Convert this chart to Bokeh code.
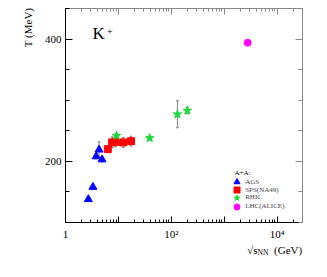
from bokeh.plotting import figure
from bokeh.models import (FixedTicker, CustomJSTickFormatter, LogAxis, LinearAxis, Label,
                          Legend, LegendItem, Whisker, TeeHead, ColumnDataSource)
from bokeh.embed import file_html
from bokeh.resources import INLINE

# ---- data ----
ags_x = [2.7, 3.3, 3.8, 4.3, 4.9]
ags_T = [138, 158, 208, 219, 203]
ags_err = [2, 3, 4, 13, 4]

sps_x = [6.3, 7.6, 8.8, 12.3, 17.3]
sps_T = [220, 231, 232, 231, 233]
sps_err = [4, 9, 8, 8, 8]

rhic_x = [9.2, 39, 130, 200]
rhic_T = [242, 238, 277, 283]
rhic_err = [3, 3, 22, 5]

lhc_x = [2760]
lhc_T = [394]
lhc_err = [3]

x_major = [1, 10, 100, 1000, 10000]
x_labels = {1: "1", 100: "10\u00b2", 10000: "10\u2074"}
y_major = [200, 400]
y_minor = [100, 150, 250, 300, 350, 450]

FONT = "Liberation Serif"
GREEN = "#1ed83c"
NB = "\u00a0"

p = figure(frame_width=237, frame_height=214, x_axis_type="log",
           x_range=(1, 3e4), y_range=(100, 450),
           output_backend="svg", toolbar_location=None,
           min_border_left=65, min_border_right=10, min_border_top=8, min_border_bottom=40)
p.grid.visible = False
p.outline_line_color = "#888888"
p.background_fill_color = "white"

x_minor = [m * d for d in [1, 10, 100, 1000, 10000] for m in range(2, 10) if m * d < 3e4]
fmt_js = "const m = %s; return (m[tick] !== undefined) ? m[tick] : '';" % (
    "{" + ",".join("%d:'%s'" % (k, v) for k, v in x_labels.items()) + "}")

def style(ax, labels=True, maj=6, mino=3, color="black"):
    ax.major_tick_in = maj
    ax.major_tick_out = 0
    ax.minor_tick_in = mino
    ax.minor_tick_out = 0
    ax.axis_line_color = color
    ax.major_tick_line_color = color
    ax.minor_tick_line_color = color
    ax.major_label_text_font = FONT
    ax.major_label_text_font_size = "11px" if labels else "0px"
    ax.major_label_text_color = "black"
    ax.axis_label_text_font = FONT
    ax.axis_label_text_font_size = "11px"
    ax.axis_label_text_font_style = "normal"
    ax.axis_label_text_color = "black"
    if not labels:
        ax.major_label_standoff = 0
        ax.formatter = CustomJSTickFormatter(code="return '';")

# bottom axis (label centred on the frame; leading no-break spaces push it to the right end)
xa = p.xaxis[0]
xa.ticker = FixedTicker(ticks=x_major, minor_ticks=x_minor)
xa.formatter = CustomJSTickFormatter(code=fmt_js)
style(xa)
xa.major_label_standoff = 5
xa.axis_label = NB * 66 + "\u221as" + NB * 6 + "(GeV)"
xa.axis_label_standoff = 1

# left axis
ya = p.yaxis[0]
ya.ticker = FixedTicker(ticks=y_major, minor_ticks=y_minor)
style(ya, maj=7, mino=4)
ya.major_label_standoff = 4
ya.axis_label = NB * 64 + "T (MeV)"
ya.axis_label_standoff = 8

# top axis
ta = LogAxis(ticker=FixedTicker(ticks=x_major, minor_ticks=x_minor))
style(ta, labels=False, maj=6, mino=3, color="#888888")
p.add_layout(ta, "above")

# right axis
ra = LinearAxis(ticker=FixedTicker(ticks=y_major, minor_ticks=y_minor))
style(ra, labels=False, maj=7, mino=4, color="#888888")
p.add_layout(ra, "right")

# subscript of the x-axis label (side panel, not clipped)
p.add_layout(Label(x=192, y=11, x_units="screen", y_units="screen", text="NN",
                   text_font=FONT, text_font_size="7.5px", text_color="black"), "below")

# error bars
all_x = ags_x + sps_x + rhic_x + lhc_x
all_T = ags_T + sps_T + rhic_T + lhc_T
all_e = ags_err + sps_err + rhic_err + lhc_err
esrc = ColumnDataSource(dict(x=all_x,
                             upper=[t + e for t, e in zip(all_T, all_e)],
                             lower=[t - e for t, e in zip(all_T, all_e)]))
w = Whisker(source=esrc, base="x", upper="upper", lower="lower", dimension="height",
            line_color="#808080", line_width=1,
            upper_head=TeeHead(size=3, line_color="#808080"),
            lower_head=TeeHead(size=3, line_color="#808080"), level="underlay")
p.add_layout(w)

r1 = p.scatter(ags_x, ags_T, marker="triangle", size=8, color="blue")
r2 = p.scatter(sps_x, sps_T, marker="square", size=7, color="red")
r3 = p.scatter(rhic_x, rhic_T, marker="star", size=9, color=GREEN)
r4 = p.scatter(lhc_x, lhc_T, marker="circle", size=7, color="magenta")

entries = [("AGS", r1, 32.8), ("SPS(NA49)", r2, 24.8), ("RHIC", r3, 17.2), ("LHC(ALICE)", r4, 8.5)]
for name, r, yb in entries:
    lg = Legend(items=[LegendItem(label=name, renderers=[r])],
                location=(164.2, yb), glyph_width=15, glyph_height=15, label_height=15,
                spacing=0, padding=0, margin=0, label_standoff=1,
                label_text_font=FONT, label_text_font_size="7px",
                border_line_color=None, background_fill_alpha=0)
    p.add_layout(lg)

def lab(x, y, text, size, **kw):
    p.add_layout(Label(x=x, y=y, x_units="screen", y_units="screen", text=text,
                       text_font=FONT, text_font_size=size, text_color="black", **kw))

lab(169, 49.3, "A+A:", "7px", text_baseline="middle")
lab(27, 180, "K", "17px")
lab(41.5, 188, "+", "10px")

open("out.html", "w").write(file_html(p, INLINE))
